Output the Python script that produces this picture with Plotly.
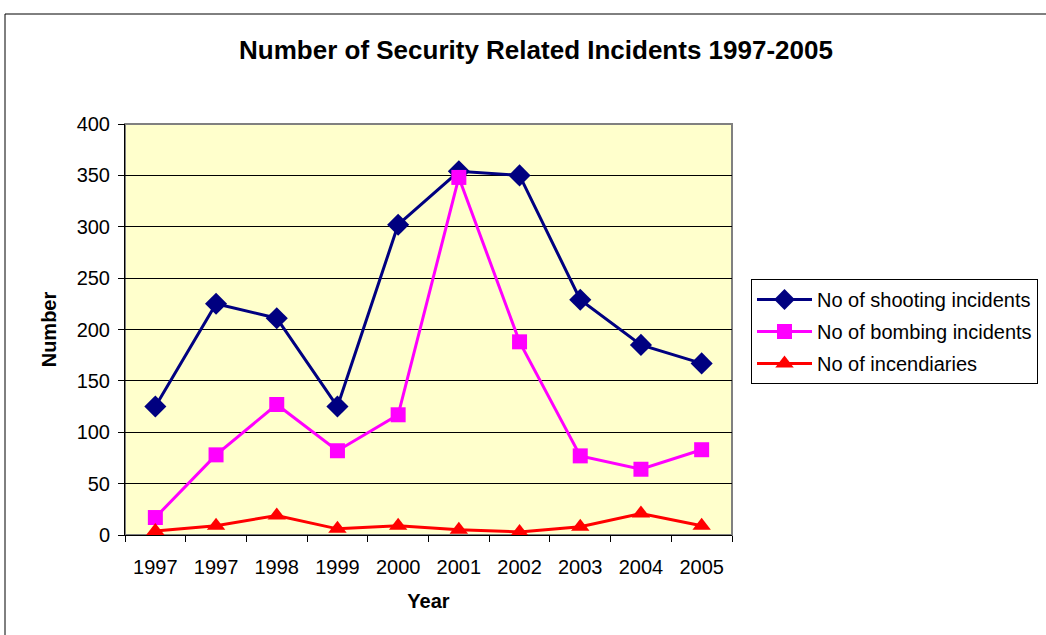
import plotly.graph_objects as go

years = ["1997", "1997", "1998", "1999", "2000", "2001", "2002", "2003", "2004", "2005"]
shooting = [125, 225, 211, 125, 302, 354, 350, 229, 185, 167]
bombing = [17, 78, 127, 82, 117, 348, 188, 77, 64, 83]
incendiaries = [4, 9, 19, 6, 9, 5, 3, 8, 21, 9]

xs = list(range(1, len(years) + 1))

W, H = 1046, 635
L, R, T, B = 125, 732, 124, 535

def px_x(p):
    return (p - L) / (R - L)

def px_y(p):
    return (B - p) / (B - T)

fig = go.Figure()
fig.add_trace(go.Scatter(x=xs, y=shooting, name="No of shooting incidents", mode="lines+markers",
                         legendgroup="a",
                         line=dict(color="#000080", width=3),
                         marker=dict(symbol="diamond", size=17, color="#000080")))
fig.add_trace(go.Scatter(x=xs, y=bombing, name="No of bombing incidents", mode="lines+markers",
                         legendgroup="b",
                         line=dict(color="#FF00FF", width=3),
                         marker=dict(symbol="square", size=15, color="#FF00FF")))
fig.add_trace(go.Scatter(x=xs, y=incendiaries, name="No of incendiaries", mode="lines+markers",
                         legendgroup="c",
                         line=dict(color="#FF0000", width=3),
                         marker=dict(symbol="triangle-up", size=16, color="#FF0000")))

font = "Liberation Sans, Arial, sans-serif"
fs = 20

fig.update_layout(
    width=W, height=H,
    margin=dict(l=L, r=W - R, t=T, b=H - B, pad=0, autoexpand=False),
    paper_bgcolor="white",
    plot_bgcolor="#FFFFCC",
    font=dict(family=font, size=fs, color="black"),
    title=dict(text="<b>Number of Security Related Incidents 1997-2005</b>",
               x=536 / W, xanchor="center", y=1 - 50 / H, yanchor="middle",
               font=dict(size=26, family=font, color="black")),
    showlegend=True,
    legend=dict(x=px_x(751), y=px_y(279), xanchor="left", yanchor="top",
                bgcolor="white", bordercolor="black", borderwidth=1,
                font=dict(size=fs, family=font), tracegroupgap=3,
                traceorder="grouped", itemwidth=55),
    xaxis=dict(range=[0.5, len(years) + 0.5], tickmode="array", tickvals=xs, ticktext=years,
               ticks="", showgrid=False, zeroline=False,
               showline=True, linecolor="black", linewidth=1,
               tickfont=dict(size=fs), ticklabelstandoff=14,
               minor=dict(tickmode="array", tickvals=[i + 0.5 for i in range(len(years) + 1)],
                          ticks="outside", ticklen=6, tickcolor="black", showgrid=False),
               title=dict(text="<b>Year</b>", font=dict(size=fs), standoff=16),
               fixedrange=True),
    yaxis=dict(range=[0, 400], dtick=50, ticks="outside", ticklen=6, tickcolor="black",
               showgrid=True, gridcolor="black", gridwidth=1, zeroline=False,
               showline=True, linecolor="black", linewidth=1,
               tickfont=dict(size=fs), ticklabelstandoff=4,
               title=dict(text="<b>Number</b>", font=dict(size=fs), standoff=14),
               fixedrange=True),
    shapes=[
        dict(type="rect", xref="paper", yref="paper", x0=0, x1=1, y0=0, y1=1,
             line=dict(color="#808080", width=2), layer="below"),
        dict(type="rect", xref="paper", yref="paper",
             x0=px_x(5), x1=px_x(1050), y0=px_y(640), y1=px_y(14),
             line=dict(color="black", width=1), layer="below"),
    ],
)

fig.write_html("out.html")
